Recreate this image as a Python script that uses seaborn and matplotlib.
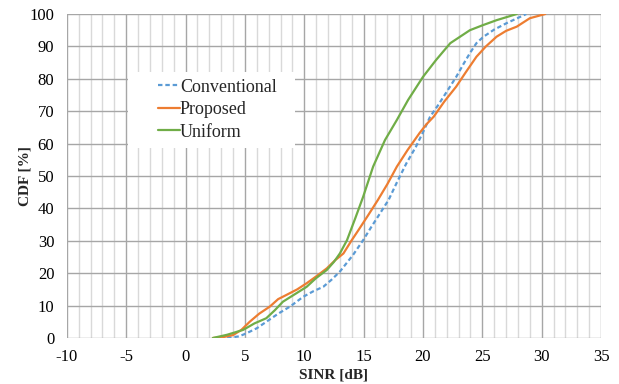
import matplotlib
matplotlib.use("Agg")
import matplotlib.pyplot as plt
import seaborn as sns
import pandas as pd
from matplotlib.ticker import MultipleLocator
from matplotlib.patches import Rectangle

conv_x = [3.5, 4.5, 5.1, 6.0, 6.8, 7.8, 8.8, 9.9, 10.8, 11.6, 12.3, 13.0, 14.1, 14.96, 15.6, 16.3, 17.1, 17.8, 18.6, 19.4, 20.0, 20.6, 21.3, 22.0, 22.8, 23.4, 23.95, 24.5, 25.1, 26.0, 27.0, 28.0, 28.7]
conv_y = [0, 0.5, 1.4, 3, 5, 7.5, 9.7, 12.7, 14.5, 15.8, 18, 20.5, 25.6, 30.2, 34, 38, 42.6, 48, 53.9, 59, 63.5, 68.3, 72, 76, 80.6, 84.5, 87.9, 91, 93, 95.2, 97.1, 98.8, 100]

prop_x = [2.3, 3.2, 4.0, 4.7, 5.4, 6.2, 7.1, 7.8, 8.5, 9.4, 10.2, 11.0, 11.9, 12.6, 13.3, 14.0, 14.6, 15.4, 16.2, 17.0, 17.8, 18.7, 19.7, 20.3, 20.9, 21.8, 22.8, 23.6, 24.5, 25.3, 26.2, 27.0, 27.9, 29.0, 30.3]
prop_y = [0, 0.3, 0.9, 2.5, 5, 7.5, 9.7, 12, 13.3, 15, 16.9, 19, 21.5, 24, 26.1, 30.2, 33.5, 38, 42.6, 47.5, 52.9, 58, 63.2, 66, 68.3, 73, 77.6, 82, 86.8, 90, 93, 94.8, 96.1, 98.7, 100]

unif_x = [2.3, 3.5, 4.85, 5.8, 6.8, 7.5, 8.2, 9.2, 10.2, 11.0, 11.9, 12.5, 13.0, 13.6, 14.3, 14.96, 15.8, 16.8, 17.8, 18.75, 20.0, 21.1, 22.3, 23.95, 25.0, 26.2, 27.9]
unif_y = [0, 1, 2.5, 4.5, 6.1, 8.5, 11.2, 13.5, 15.8, 18.5, 21, 23.5, 26.1, 30.2, 37, 43.6, 52.9, 61.1, 67.3, 73.5, 80.6, 85.8, 91, 95, 96.5, 98.1, 100]

series_names = ["Conventional", "Proposed", "Uniform"]

sns.set_theme(style="white")
plt.rcParams['font.family'] = ['Liberation Serif', 'DejaVu Serif']
plt.rcParams['axes.unicode_minus'] = False

fig = plt.figure(figsize=(6.19, 3.84), dpi=100)
ax = fig.add_axes([0.108, 0.1198, 0.863, 0.8437])

styles = [
    dict(color="#5B9BD5", linestyle=(0, (2.0, 1.3)), linewidth=1.6),
    dict(color="#ED7D31", linestyle="-", linewidth=1.6),
    dict(color="#70AD47", linestyle="-", linewidth=1.6),
]
data = [(conv_x, conv_y), (prop_x, prop_y), (unif_x, unif_y)]
for name, (xs, ys), st in zip(series_names, data, styles):
    df = pd.DataFrame({"x": xs, "y": ys})
    sns.lineplot(data=df, x="x", y="y", ax=ax, sort=False, estimator=None,
                 label=name, zorder=3, **st)

ax.set_xlim(-10, 35)
ax.set_ylim(0, 100)
ax.xaxis.set_major_locator(MultipleLocator(5))
ax.xaxis.set_minor_locator(MultipleLocator(1))
ax.yaxis.set_major_locator(MultipleLocator(10))
ax.grid(which="major", axis="x", color="#a6a6a6", linewidth=1.0)
ax.grid(which="minor", axis="x", color="#d9d9d9", linewidth=1.0)
ax.grid(which="major", axis="y", color="#a6a6a6", linewidth=1.0)
for s in ax.spines.values():
    s.set_visible(False)
ax.tick_params(axis="both", which="both", length=0, labelsize=12, colors="black")
ax.tick_params(axis="x", pad=8)
ax.tick_params(axis="y", pad=9)

ax.set_xlabel("SINR [dB]", fontsize=11, fontweight="bold")
ax.set_ylabel("CDF [%]", fontsize=11, fontweight="bold")
ax.xaxis.set_label_coords(0.5, -0.093)
ax.yaxis.set_label_coords(-0.066, 0.5)

ax.add_patch(Rectangle((0.1142, 0.586), 0.313, 0.235, transform=ax.transAxes,
                       facecolor="white", edgecolor="none", zorder=2.5))
leg = ax.legend(loc="upper left", bbox_to_anchor=(0.1704, 0.80), fontsize=13,
                frameon=False, handlelength=1.22, handletextpad=0.0,
                borderpad=0, labelspacing=0.3, borderaxespad=0)

fig.savefig("out.png", dpi=100)
